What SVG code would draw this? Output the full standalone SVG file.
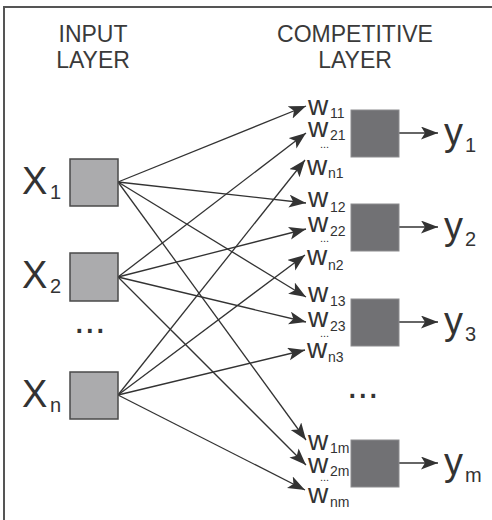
<svg xmlns="http://www.w3.org/2000/svg" width="492" height="520" viewBox="0 0 492 520">
<style>
.t{font-family:"Liberation Sans",Arial,sans-serif;fill:#333}
.title{font-size:23px;text-anchor:middle;fill:#3a3a3a}
.big{font-size:38px}
.sub{font-size:20px}
.w{font-size:28px}
.ws{font-size:14px}
.wd{font-size:11px}
.inbox{fill:#ababad;stroke:#4a4a4a;stroke-width:1.5}
.outbox{fill:#717174;stroke:#8c8c8e;stroke-width:1}
.c{stroke:#333;stroke-width:1.3;fill:none;marker-end:url(#ah)}
</style>
<defs>
<marker id="ah" markerUnits="userSpaceOnUse" markerWidth="18" markerHeight="14" refX="17" refY="6.5" orient="auto">
<path d="M0,0 L17,6.5 L0,13 L4,6.5 Z" fill="#333"/>
</marker>
</defs>
<rect width="492" height="520" fill="#fff"/>
<path d="M4,520 V7 H492" fill="none" stroke="#555" stroke-width="2"/>
<g id="titles">
<text class="t title" x="93" y="42">INPUT</text>
<text class="t title" x="93" y="68">LAYER</text>
<text class="t title" x="355" y="42">COMPETITIVE</text>
<text class="t title" x="355" y="68">LAYER</text>
</g>
<g id="connectors">
<line class="c" x1="118" y1="182" x2="306" y2="106"/>
<line class="c" x1="118" y1="182" x2="306" y2="203"/>
<line class="c" x1="118" y1="182" x2="306" y2="297"/>
<line class="c" x1="118" y1="182" x2="306" y2="440"/>
<line class="c" x1="118" y1="277" x2="306" y2="133"/>
<line class="c" x1="118" y1="277" x2="306" y2="229"/>
<line class="c" x1="118" y1="277" x2="306" y2="322"/>
<line class="c" x1="118" y1="277" x2="306" y2="465"/>
<line class="c" x1="118" y1="395" x2="305" y2="160"/>
<line class="c" x1="118" y1="395" x2="305" y2="255"/>
<line class="c" x1="118" y1="395" x2="305" y2="350"/>
<line class="c" x1="118" y1="395" x2="305" y2="490"/>
<line class="c" x1="399" y1="133" x2="438" y2="133"/>
<line class="c" x1="399" y1="227" x2="438" y2="227"/>
<line class="c" x1="399" y1="322" x2="438" y2="322"/>
<line class="c" x1="399" y1="463" x2="438" y2="463"/>
</g>
<g id="x1"><rect class="inbox" x="70" y="159" width="48" height="47"/><text class="t big" x="22" y="194">X</text><text class="t sub" x="50" y="199">1</text></g>
<g id="x2"><rect class="inbox" x="70" y="253" width="48" height="48"/><text class="t big" x="22" y="288">X</text><text class="t sub" x="50" y="293">2</text></g>
<g id="xdots"><text class="t big" x="74" y="333">...</text></g>
<g id="xn"><rect class="inbox" x="70" y="372" width="48" height="47"/><text class="t big" x="22" y="407">X</text><text class="t sub" x="50" y="412">n</text></g>
<g id="c1">
<text class="t w" x="308" y="115">w</text><text class="t ws" x="330" y="118">11</text>
<text class="t w" x="308" y="137">w</text><text class="t ws" x="330" y="140">21</text>
<text class="t wd" x="320" y="148">...</text>
<text class="t w" x="307" y="175">w</text><text class="t ws" x="328" y="178">n1</text>
<rect class="outbox" x="351" y="110" width="48" height="47"/>
</g>
<g id="y1"><text class="t big" x="444" y="145">y</text><text class="t sub" x="465" y="152">1</text></g>
<g id="c2">
<text class="t w" x="308" y="207">w</text><text class="t ws" x="330" y="212">12</text>
<text class="t w" x="308" y="232">w</text><text class="t ws" x="330" y="236">22</text>
<text class="t wd" x="320" y="242">...</text>
<text class="t w" x="307" y="265">w</text><text class="t ws" x="328" y="270">n2</text>
<rect class="outbox" x="351" y="204" width="48" height="47"/>
</g>
<g id="y2"><text class="t big" x="444" y="239">y</text><text class="t sub" x="465" y="246">2</text></g>
<g id="c3">
<text class="t w" x="308" y="302">w</text><text class="t ws" x="330" y="306">13</text>
<text class="t w" x="308" y="327">w</text><text class="t ws" x="330" y="331">23</text>
<text class="t wd" x="320" y="337">...</text>
<text class="t w" x="307" y="358">w</text><text class="t ws" x="328" y="362">n3</text>
<rect class="outbox" x="351" y="299" width="48" height="47"/>
</g>
<g id="y3"><text class="t big" x="444" y="334">y</text><text class="t sub" x="465" y="341">3</text></g>
<g id="cdots"><text class="t big" x="347" y="398">...</text></g>
<g id="cm">
<text class="t w" x="308" y="450">w</text><text class="t ws" x="330" y="453">1m</text>
<text class="t w" x="308" y="473">w</text><text class="t ws" x="330" y="476">2m</text>
<text class="t wd" x="320" y="481">...</text>
<text class="t w" x="308" y="503">w</text><text class="t ws" x="330" y="507">nm</text>
<rect class="outbox" x="351" y="440" width="48" height="47"/>
</g>
<g id="ym"><text class="t big" x="444" y="475">y</text><text class="t sub" x="465" y="482">m</text></g>
</svg>
